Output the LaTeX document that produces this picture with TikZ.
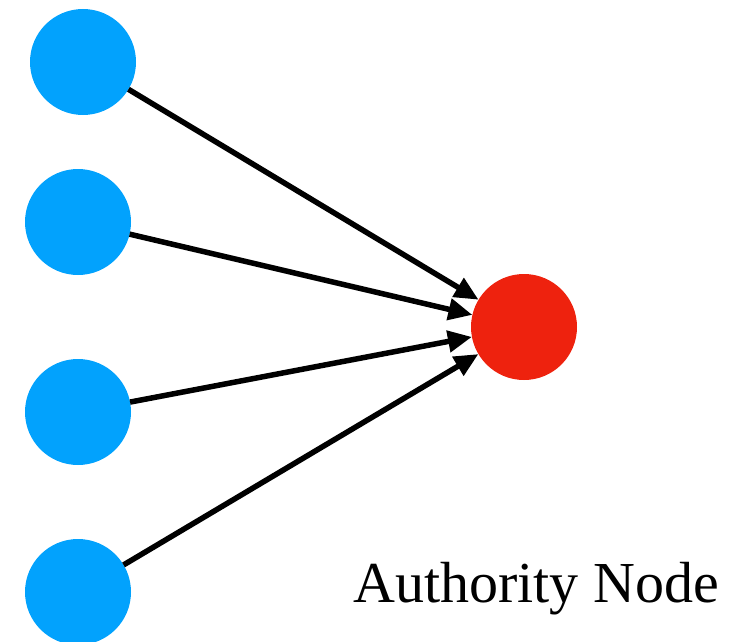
\documentclass[tikz,border=0pt]{standalone}
\usepackage{fontspec}
\setmainfont{Liberation Serif}
\usetikzlibrary{arrows.meta}
\definecolor{hubblue}{RGB}{2,162,253}
\definecolor{authred}{RGB}{238,34,14}
\begin{document}
\begin{tikzpicture}[x=1pt,y=-1pt,
  hub/.style={circle,fill=hubblue,minimum size=106pt,inner sep=0pt,outer sep=0pt},
  auth/.style={circle,fill=authred,minimum size=106pt,inner sep=0pt,outer sep=0pt},
  link/.style={line width=5.5pt,-{Triangle[length=24pt,width=21pt]}}]
\useasboundingbox (0,0) rectangle (741,642);
\clip (0,0) rectangle (741,642);
\node[hub] (h1) at (83,62) {};
\node[hub] (h2) at (78,222) {};
\node[hub] (h3) at (78,412) {};
\node[hub] (h4) at (78,592) {};
\node[auth] (a) at (524,327) {};
\draw[link] (h1) -- (a);
\draw[link] (h2) -- (a);
\draw[link] (h3) -- (a);
\draw[link] (h4) -- (a);
\node[anchor=base west,inner sep=0pt,font=\fontsize{58}{60}\selectfont] (lbl) at (353,602) {Authority Node};
\end{tikzpicture}
\end{document}
